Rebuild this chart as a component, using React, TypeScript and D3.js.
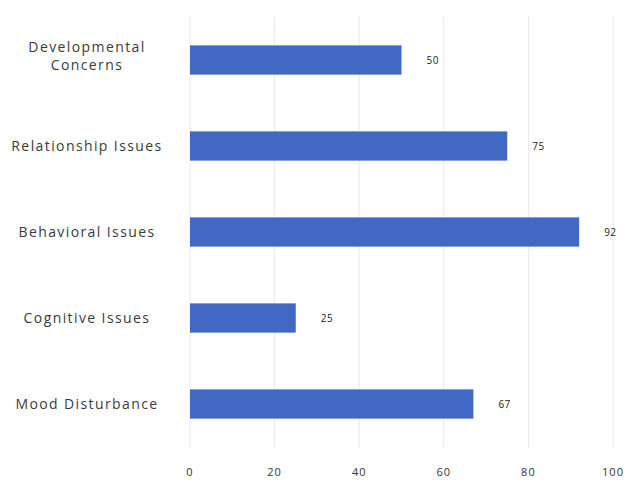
import React from "react";
import * as d3 from "d3";

const categories = ["Developmental Concerns", "Relationship Issues", "Behavioral Issues", "Cognitive Issues", "Mood Disturbance"];
const categoryLines = [["Developmental", "Concerns"], ["Relationship Issues"], ["Behavioral Issues"], ["Cognitive Issues"], ["Mood Disturbance"]];
const values = [50, 75, 92, 25, 67];
const xTicks = [0, 20, 40, 60, 80, 100];

const W = 626;
const H = 480;
const left = 190;
const right = 613;
const top = 17;
const bottom = 447;

export default function App() {
  const x = d3.scaleLinear().domain([0, 100]).range([left, right]);
  const y = d3.scaleBand<string>().domain(categories).range([top, bottom]).paddingInner(0.66).paddingOuter(0.33);
  const font = "'Open Sans', 'DejaVu Sans', sans-serif";
  return (
    <svg width={W} height={H} style={{ position: "absolute", left: 0, top: 0, background: "#fff" }}>
      {xTicks.map((t) => (
        <line key={"g" + t} x1={x(t)} x2={x(t)} y1={top} y2={bottom} stroke="#e8e8ec" strokeWidth={1} />
      ))}
      {categories.map((c, i) => (
        <rect key={c} x={x(0)} y={y(c)} width={x(values[i]) - x(0)} height={y.bandwidth()} fill="#4169c4" />
      ))}
      {categories.map((c, i) => (
        <text key={"v" + c} x={x(values[i]) + 25} y={(y(c) as number) + y.bandwidth() / 2} dy="0.35em" fontSize={10} fill="#222" fontFamily={font} letterSpacing={0.5}>
          {values[i]}
        </text>
      ))}
      {categories.map((c, i) => {
        const lines = categoryLines[i];
        const cy = (y(c) as number) + y.bandwidth() / 2;
        const lh = 18;
        const start = cy - ((lines.length - 1) * lh) / 2 - (lines.length > 1 ? 4 : 0);
        return (
          <text key={"l" + c} textAnchor="middle" fontSize={14} fill="#3a3a3a" fontFamily={font} letterSpacing={1.4}>
            {lines.map((ln, j) => (
              <tspan key={j} x={87} y={start + j * lh} dy="0.35em">{ln}</tspan>
            ))}
          </text>
        );
      })}
      {xTicks.map((t) => (
        <text key={"t" + t} x={x(t)} y={476} textAnchor="middle" fontSize={11} fill="#333" fontFamily={font} letterSpacing={1}>
          {t}
        </text>
      ))}
    </svg>
  );
}
